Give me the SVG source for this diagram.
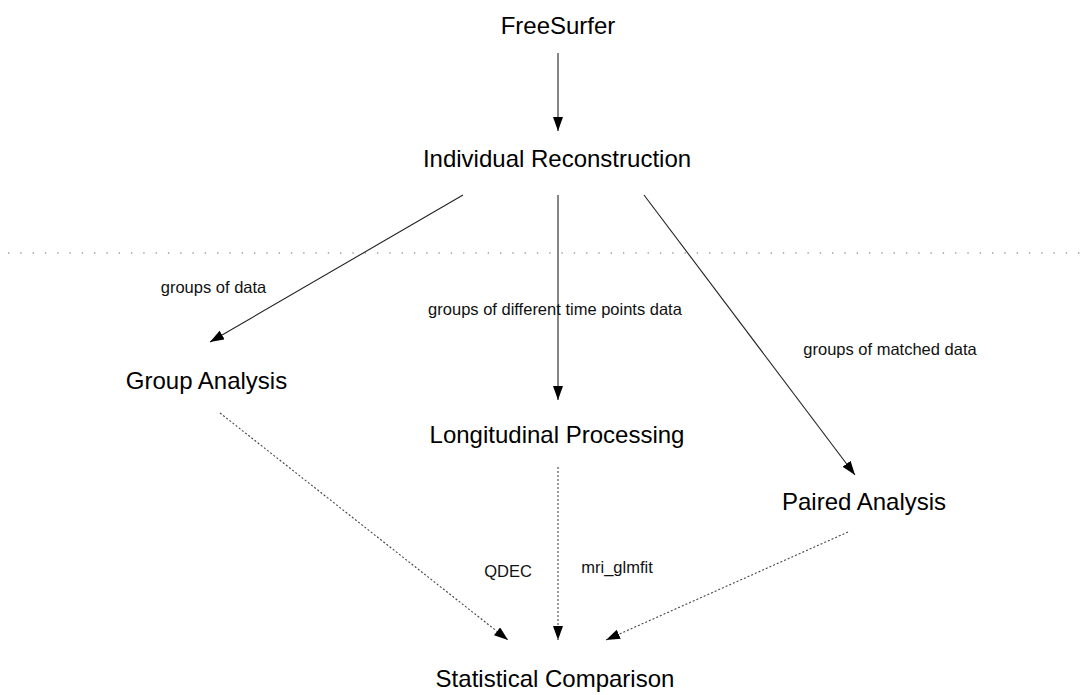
<svg xmlns="http://www.w3.org/2000/svg" width="1090" height="695" viewBox="0 0 1090 695">
  <style>
    .node { font-family: "Liberation Sans", Arial, sans-serif; font-size: 24px; fill: #000; text-anchor: middle; }
    .lbl { font-family: "Liberation Sans", Arial, sans-serif; font-size: 16.5px; fill: #111; text-anchor: middle; }
    .solid { stroke: #222; stroke-width: 1.1; fill: none; marker-end: url(#ah); }
    .dotted { stroke: #444; stroke-width: 1.1; stroke-dasharray: 2 2; fill: none; marker-end: url(#ah); }
    .sep { stroke: #9a9a9a; stroke-width: 1.3; stroke-dasharray: 1.3 11; fill: none; }
  </style>
  <defs>
    <marker id="ah" markerUnits="userSpaceOnUse" markerWidth="15" markerHeight="11" refX="14" refY="5" orient="auto">
      <path d="M0,0 L14,5 L0,10 z" fill="#000"/>
    </marker>
  </defs>
  <rect width="1090" height="695" fill="#fff"/>

  <line class="sep" x1="8" y1="253" x2="1090" y2="253"/>

  <g id="connectors">
    <line class="solid" x1="558" y1="53" x2="558" y2="131"/>
    <line class="solid" x1="463" y1="195" x2="210" y2="342"/>
    <line class="solid" x1="558" y1="195" x2="558" y2="400"/>
    <line class="solid" x1="644" y1="195" x2="855" y2="475"/>
    <line class="dotted" x1="220" y1="413" x2="508" y2="640"/>
    <line class="dotted" x1="558" y1="467" x2="558" y2="640"/>
    <line class="dotted" x1="848" y1="532" x2="606" y2="640"/>
    <text class="lbl" x="213.5" y="293">groups of data</text>
    <text class="lbl" x="555" y="315">groups of different time points data</text>
    <text class="lbl" x="890" y="355">groups of matched data</text>
    <text class="lbl" x="508" y="577">QDEC</text>
    <text class="lbl" x="617" y="573">mri_glmfit</text>
  </g>

  <g id="freesurfer"><text class="node" x="558" y="34">FreeSurfer</text></g>
  <g id="individual-reconstruction"><text class="node" x="557" y="167">Individual Reconstruction</text></g>
  <g id="group-analysis"><text class="node" x="206.5" y="389">Group Analysis</text></g>
  <g id="longitudinal-processing"><text class="node" x="557" y="443">Longitudinal Processing</text></g>
  <g id="paired-analysis"><text class="node" x="864" y="510">Paired Analysis</text></g>
  <g id="statistical-comparison"><text class="node" x="555" y="687">Statistical Comparison</text></g>
</svg>
